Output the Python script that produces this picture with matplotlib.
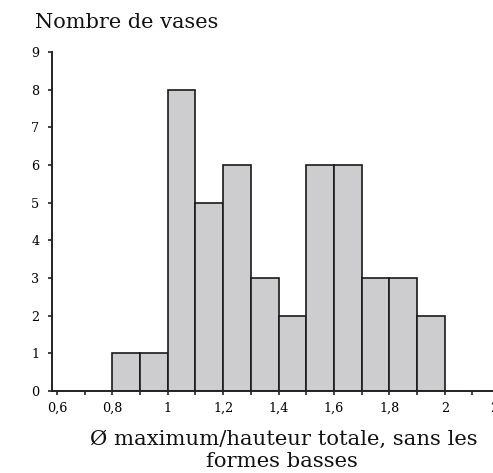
import matplotlib
matplotlib.use("Agg")
import matplotlib.pyplot as plt
import numpy as np

bin_edges = [0.8, 0.9, 1.0, 1.1, 1.2, 1.3, 1.4, 1.5, 1.6, 1.7, 1.8, 1.9, 2.0]
counts = [1, 1, 8, 5, 6, 3, 2, 6, 6, 3, 3, 2]
xtick_values = [0.6, 0.8, 1.0, 1.2, 1.4, 1.6, 1.8, 2.0, 2.2]
xtick_labels = ["0,6", "0,8", "1", "1,2", "1,4", "1,6", "1,8", "2", "2,2"]
ytick_values = list(range(0, 10))

plt.rcParams['font.family'] = ['DejaVu Serif']

W, H = 493, 473
fig = plt.figure(figsize=(W / 100, H / 100), dpi=100)
x0, x1 = 0.582, 2.25
ppu = 277.0
left_px, bottom_px, top_px = 52, 391, 52
ax = fig.add_axes([left_px / W, 1 - bottom_px / H, (x1 - x0) * ppu / W, (bottom_px - top_px) / H])

lefts = np.array(bin_edges[:-1])
widths = np.diff(bin_edges)
ax.bar(lefts, counts, width=widths, align='edge', color='#cdcdcf', edgecolor='#1a1a1a', linewidth=1.2, zorder=2)

ax.set_xlim(x0, x1)
ax.set_ylim(0, 9)
ax.set_xticks(xtick_values)
ax.set_xticklabels(xtick_labels)
ax.set_xticks(np.arange(0.7, 2.25, 0.2), minor=True)
ax.set_yticks(ytick_values)
ax.tick_params(axis='both', which='both', direction='out', length=3, width=1.2, color='#222222', labelsize=9.2)
ax.tick_params(axis='x', pad=5)
ax.tick_params(axis='y', pad=6)
for s in ['top', 'right']:
    ax.spines[s].set_visible(False)
for s in ['left', 'bottom']:
    ax.spines[s].set_linewidth(1.4)
    ax.spines[s].set_color('#222222')

fig.text(35 / W, 1 - 22 / H, "Nombre de vases", fontsize=15, ha='left', va='center', color='#111111')
fig.text(284 / W, 1 - 439 / H, "Ø maximum/hauteur totale, sans les", fontsize=15.2, ha='center', va='center', color='#111111')
fig.text(282 / W, 1 - 461 / H, "formes basses", fontsize=15.2, ha='center', va='center', color='#111111')

fig.savefig("out.png", dpi=100)
